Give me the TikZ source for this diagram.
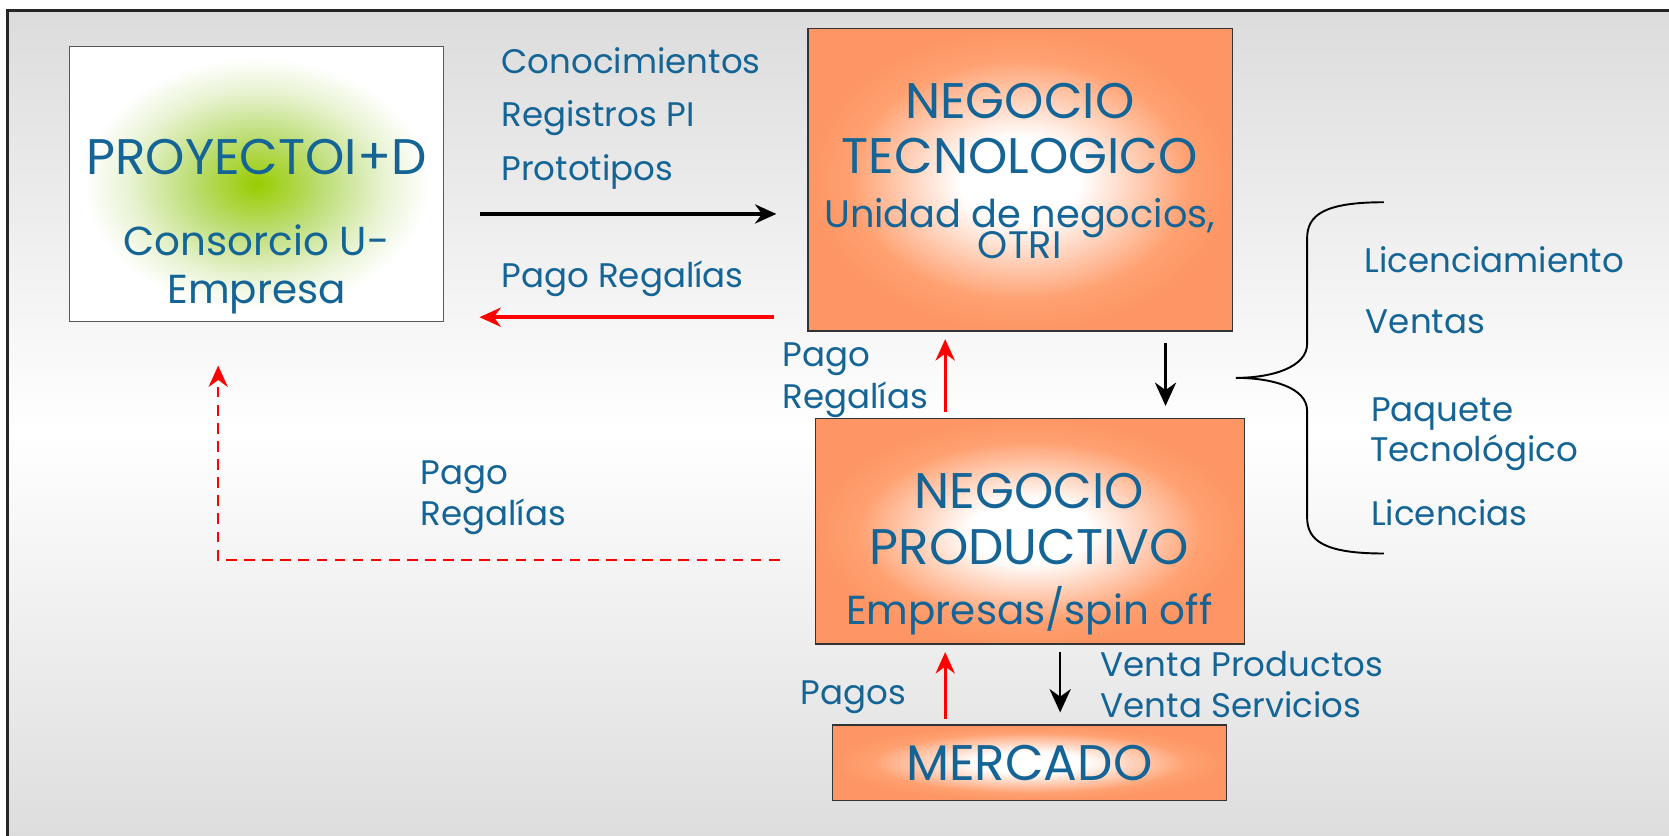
\documentclass[tikz,border=0pt]{standalone}
\usepackage{fontspec}
\setmainfont{Poppins}
\usepackage{tikz}
\usetikzlibrary{arrows.meta,positioning,calc}

\definecolor{txtblue}{RGB}{20,100,150}
\definecolor{negorange}{RGB}{255,160,112}
\definecolor{negorangedk}{RGB}{253,150,100}
\definecolor{proygreen}{RGB}{153,204,0}
\definecolor{proymid}{RGB}{190,222,120}
\definecolor{proylight}{RGB}{232,243,210}
\definecolor{bggray}{RGB}{220,220,220}
\definecolor{arrred}{RGB}{255,0,0}

\pgfdeclareradialshading{orangeglow}{\pgfpoint{0bp}{0bp}}{color(0bp)=(white); color(7bp)=(white); color(20bp)=(negorange); color(25bp)=(negorangedk); color(50bp)=(negorangedk)}
\pgfdeclareradialshading{greenglow}{\pgfpoint{0bp}{0bp}}{color(0bp)=(proygreen); color(9bp)=(proymid); color(17bp)=(proylight); color(23bp)=(white); color(50bp)=(white)}

\newcommand{\boxfont}{\fontsize{47}{47}\selectfont}
\newcommand{\midfont}{\fontsize{38}{38}\selectfont}
\newcommand{\subfont}{\fontsize{36}{36}\selectfont}
\newcommand{\lblfont}{\fontsize{32}{32}\selectfont}

\begin{document}
\begin{tikzpicture}[x=1pt, y=-1pt,
	negbox/.style={rectangle, draw=black!80, line width=1.3pt, shade, shading=orangeglow, inner sep=0pt},
	proybox/.style={rectangle, draw=black!65, line width=1pt, shade, shading=greenglow, inner sep=0pt},
	btxt/.style={anchor=base, inner sep=0pt, text=txtblue, font=\boxfont},
	mtxt/.style={anchor=base, inner sep=0pt, text=txtblue, font=\midfont},
	stxt/.style={anchor=base, inner sep=0pt, text=txtblue, font=\subfont},
	lbl/.style={anchor=base west, inner sep=0pt, text=txtblue, font=\lblfont},
	fwd/.style={-{Stealth[length=20pt, width=18pt]}, line width=3.2pt, black},
	back/.style={-{Stealth[length=20pt, width=18pt]}, line width=3.2pt, arrred},
	down/.style={-{Stealth[length=22pt, width=20pt]}, line width=2.2pt, black}]
	\useasboundingbox (0,0) rectangle (1568,785);
	\fill[white] (0,0) rectangle (1568,785);
	\shade[top color=bggray, bottom color=bggray, middle color=white] (7,10) rectangle (1600,800);
	\draw[line width=2.2pt, black!85] (1600,10) -- (7,10) -- (7,800);

	\node (proy) [proybox, minimum width=352pt, minimum height=258pt] at (241,173) {};
	\node (proy1) [btxt] at (241,164) {PROYECTOI+D};
	\node (proy2) [mtxt] at (241,240) {Consorcio U-};
	\node (proy3) [mtxt] at (241,285) {Empresa};

	\node (tec) [negbox, minimum width=399pt, minimum height=284pt] at (958.5,169) {};
	\node (tec1) [btxt] at (958,111) {NEGOCIO};
	\node (tec2) [btxt] at (958,163) {TECNOLOGICO};
	\node (tec3) [stxt] at (958,214) {Unidad de negocios,};
	\node (tec4) [stxt] at (958,243) {OTRI};

	\node (prod) [negbox, minimum width=403pt, minimum height=212pt] at (967.5,499) {};
	\node (prod1) [btxt] at (967,478) {NEGOCIO};
	\node (prod2) [btxt] at (967,530) {PRODUCTIVO};
	\node (prod3) [mtxt] at (967,587) {Empresas/spin off};

	\node (merc) [negbox, minimum width=370pt, minimum height=71pt] at (967,716.5) {};
	\node (merc1) [btxt] at (967,733) {MERCADO};

	\node (con) [lbl] at (471,69) {Conocimientos};
	\node (reg) [lbl] at (471,119) {Registros PI};
	\node (prot) [lbl] at (471,170) {Prototipos};
	\node (pago) [lbl] at (471,270) {Pago Regalías};
	\node (pagoa) [lbl] at (735,344) {Pago};
	\node (pagob) [lbl] at (735,384) {Regalías};
	\node (pagoc) [lbl] at (395,455) {Pago};
	\node (pagod) [lbl] at (395,494) {Regalías};
	\node (pagos) [lbl] at (752,662) {Pagos};
	\node (vprod) [lbl] at (1034,636) {Venta Productos};
	\node (vserv) [lbl] at (1034,674) {Venta Servicios};
	\node (lic) [lbl] at (1282,256) {Licenciamiento};
	\node (ven) [lbl] at (1283,313) {Ventas};
	\node (paq) [lbl] at (1288,396) {Paquete};
	\node (tecn) [lbl] at (1287,434) {Tecnológico};
	\node (lics) [lbl] at (1288,494) {Licencias};

	\draw [fwd, shorten <=33pt, shorten >=29pt] ([yshift=-28pt]proy.east) -- ([yshift=-28pt]proy.east -| tec.west);
	\draw [back, shorten <=31pt, shorten >=33pt] ([yshift=-125pt]proy.east -| tec.west) -- ([yshift=-125pt]proy.east);
	\draw [back, shorten <=5pt, shorten >=7pt] ([xshift=-79.5pt]prod.north) -- ([xshift=-79.5pt]prod.north |- tec.south);
	\draw [down, shorten <=11pt, shorten >=11pt] ([xshift=136.5pt]tec.south) -- ([xshift=136.5pt]tec.south |- prod.north);
	\draw [back, line width=2.2pt, dash pattern=on 10pt off 7pt, shorten <=33pt, shorten >=41pt] ([yshift=-27pt]prod.west) -| ([xshift=-36pt]proy.south);
	\draw [back, shorten <=5pt, shorten >=7pt] ([xshift=-79pt]merc.north) -- ([xshift=-79pt]merc.north |- prod.south);
	\draw [down, shorten <=7pt, shorten >=11pt] ([xshift=28.5pt]prod.south) -- ([xshift=28.5pt]prod.south |- merc.north);

	\draw [line width=1.8pt] (1300,190) .. controls (1244,190) and (1228,202) .. (1228,224) -- (1228,323) .. controls (1228,345) and (1195,355) .. (1161,355) .. controls (1195,355) and (1228,364) .. (1228,386) -- (1228,486) .. controls (1228,508) and (1244,520) .. (1300,520);
\end{tikzpicture}
\end{document}
